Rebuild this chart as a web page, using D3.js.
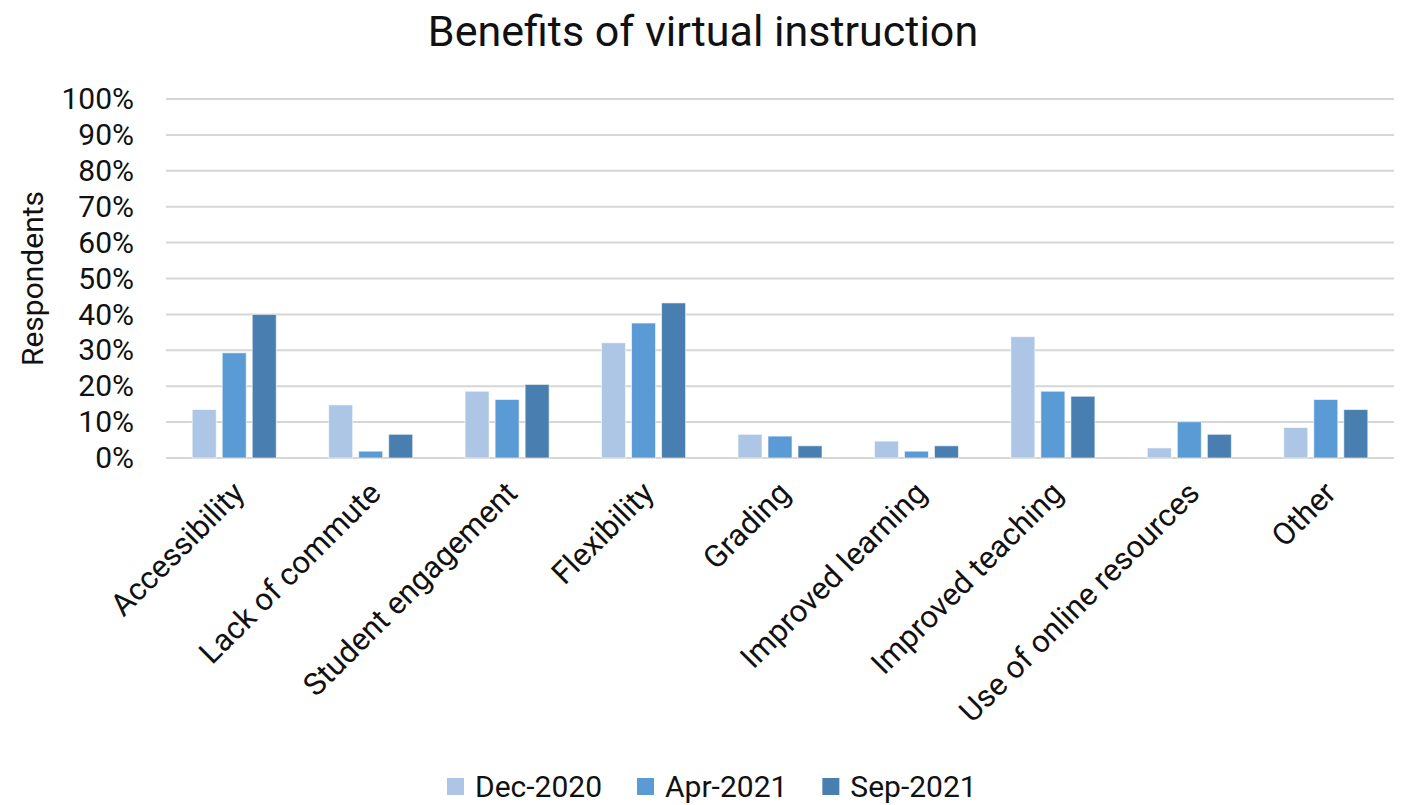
<!DOCTYPE html>
<html>
<head>
<meta charset="utf-8">
<script src="https://cdn.jsdelivr.net/npm/d3@7"></script>
<style>
  body { margin: 0; background: #fff; }
  text { font-family: Roboto, "Noto Sans", sans-serif; fill: #111; }
</style>
</head>
<body>
<div id="chart"></div>
<script>
// data (percent of respondents)
var categories = ["Accessibility", "Lack of commute", "Student engagement", "Flexibility",
    "Grading", "Improved learning", "Improved teaching", "Use of online resources", "Other"];
var seriesNames = ["Dec-2020", "Apr-2021", "Sep-2021"];
var dec2020 = [13.5, 14.8, 18.6, 32.1, 6.6, 4.7, 33.8, 2.8, 8.5];
var apr2021 = [29.3, 1.9, 16.3, 37.6, 6.1, 1.9, 18.6, 10.1, 16.3];
var sep2021 = [40.0, 6.6, 20.5, 43.2, 3.4, 3.4, 17.2, 6.6, 13.5];
var yTicks = [0, 10, 20, 30, 40, 50, 60, 70, 80, 90, 100];
var colors = ["#adc6e5", "#5b9bd5", "#497eb0"];

var svgWidth = 1416;
var svgHeight = 805;
var margin = { top: 99, right: 22, bottom: 347, left: 166 };
var width = svgWidth - margin.left - margin.right;
var height = svgHeight - margin.top - margin.bottom;

var svg = d3.select("#chart")
    .append("svg")
    .attr("width", svgWidth)
    .attr("height", svgHeight);

var chartGroup = svg.append("g")
    .attr("transform", `translate(${margin.left}, ${margin.top})`);

var seriesValues = [dec2020, apr2021, sep2021];
var rows = categories.map((c, i) => ({
    category: c,
    values: seriesNames.map((s, j) => ({ series: s, value: seriesValues[j][i] }))
}));

// scales
var x0 = d3.scaleBand()
    .domain(categories)
    .range([0, width])
    .paddingInner(0.384)
    .paddingOuter(0.192);
var x1 = d3.scaleBand()
    .domain(seriesNames)
    .range([0, x0.bandwidth()])
    .paddingInner(0.2);
var y = d3.scaleLinear()
    .domain([0, 100])
    .range([height, 0]);
var color = d3.scaleOrdinal().domain(seriesNames).range(colors);

// gridlines
chartGroup.append("g")
    .selectAll("line")
    .data(yTicks)
    .enter()
    .append("line")
    .attr("x1", 0)
    .attr("x2", width)
    .attr("y1", d => y(d))
    .attr("y2", d => y(d))
    .attr("stroke", "#d6d6d6")
    .attr("stroke-width", 2);

// y axis labels
var leftAxis = d3.axisLeft(y)
    .tickValues(yTicks)
    .tickFormat(d => d + "%")
    .tickSize(0)
    .tickPadding(32);
var yAxis = chartGroup.append("g").call(leftAxis);
yAxis.select(".domain").remove();
yAxis.selectAll("text")
    .attr("font-size", "30px")
    .attr("font-family", "Roboto, sans-serif")
    .attr("fill", "#111");

// bars
var groups = chartGroup.selectAll(".cat")
    .data(rows)
    .enter()
    .append("g")
    .attr("class", "cat")
    .attr("transform", d => `translate(${x0(d.category)}, 0)`);

groups.selectAll("rect")
    .data(d => d.values)
    .enter()
    .append("rect")
    .attr("x", d => x1(d.series))
    .attr("y", d => y(d.value))
    .attr("width", x1.bandwidth())
    .attr("height", d => y(0) - y(d.value))
    .attr("fill", d => color(d.series))
    .attr("stroke", "#ffffff")
    .attr("stroke-opacity", 0.6)
    .attr("stroke-width", 1);

// x labels, rotated
chartGroup.append("g")
    .selectAll("text")
    .data(categories)
    .enter()
    .append("text")
    .attr("transform", d => `translate(${x0(d) + x0.bandwidth() / 2 + 12}, ${height + 37}) rotate(-45)`)
    .attr("text-anchor", "end")
    .attr("font-size", "31px")
    .text(d => d);

// y axis title
svg.append("text")
    .attr("transform", `translate(43, ${margin.top + height / 2}) rotate(-90)`)
    .attr("text-anchor", "middle")
    .attr("font-size", "30px")
    .text("Respondents");

// title
svg.append("text")
    .attr("x", 703)
    .attr("y", 46)
    .attr("text-anchor", "middle")
    .attr("font-size", "43px")
    .text("Benefits of virtual instruction");

// legend
var legend = svg.append("g").attr("transform", "translate(447, 0)");
var offset = 0;
seriesNames.forEach((s, i) => {
    var item = legend.append("g").attr("transform", `translate(${offset}, 0)`);
    item.append("rect")
        .attr("x", 0)
        .attr("y", 778)
        .attr("width", 17)
        .attr("height", 17)
        .attr("fill", color(s));
    var t = item.append("text")
        .attr("x", 28)
        .attr("y", 797)
        .attr("font-size", "30px")
        .text(s);
    offset += 28 + t.node().getComputedTextLength() + 35;
});
</script>
</body>
</html>
